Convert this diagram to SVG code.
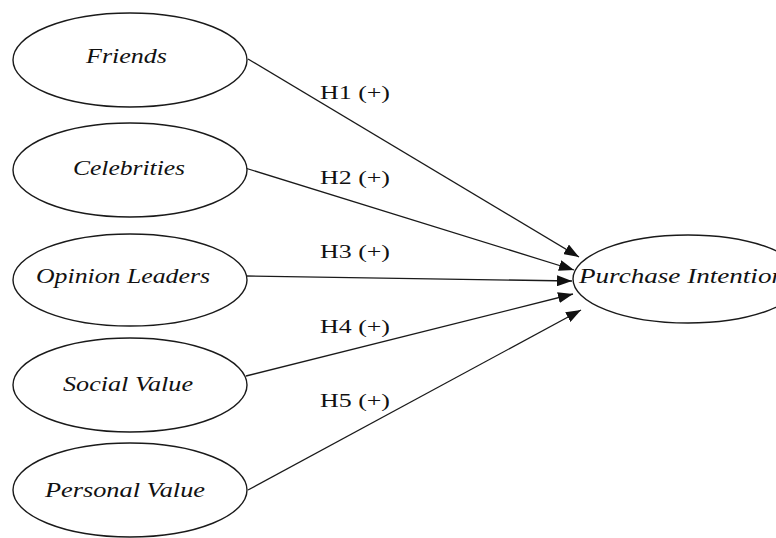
<svg xmlns="http://www.w3.org/2000/svg" width="776" height="538" viewBox="0 0 776 538">
<style>
.node ellipse{fill:#fff;stroke:#1a1a1a;stroke-width:1.4}
.node text{font-family:"Liberation Serif","Times New Roman",serif;font-style:italic;font-size:20px;fill:#111}
.edge{stroke:#1a1a1a;stroke-width:1.3;fill:none;marker-end:url(#arr)}
.lbl{font-family:"Liberation Serif","Times New Roman",serif;font-size:19px;fill:#111}
</style>
<defs>
<marker id="arr" markerUnits="userSpaceOnUse" markerWidth="15" markerHeight="11" refX="15" refY="5.5" orient="auto">
<path d="M0,0 L15,5.5 L0,11 z" fill="#111"/>
</marker>
</defs>
<rect width="776" height="538" fill="#fff"/>
<g id="connectors">
<line class="edge" x1="248" y1="59" x2="579" y2="257"/>
<line class="edge" x1="245" y1="168" x2="574" y2="270"/>
<line class="edge" x1="246" y1="276" x2="572" y2="281"/>
<line class="edge" x1="246" y1="376" x2="573" y2="294"/>
<line class="edge" x1="248" y1="490" x2="581" y2="310"/>
<text class="lbl" x="320" y="99" textLength="70" lengthAdjust="spacingAndGlyphs">H1 (+)</text>
<text class="lbl" x="320" y="184" textLength="70" lengthAdjust="spacingAndGlyphs">H2 (+)</text>
<text class="lbl" x="320" y="258" textLength="70" lengthAdjust="spacingAndGlyphs">H3 (+)</text>
<text class="lbl" x="320" y="333" textLength="70" lengthAdjust="spacingAndGlyphs">H4 (+)</text>
<text class="lbl" x="320" y="407" textLength="70" lengthAdjust="spacingAndGlyphs">H5 (+)</text>
</g>
<g id="friends" class="node">
<ellipse cx="130" cy="60" rx="117" ry="47"/>
<text x="86" y="63" textLength="81" lengthAdjust="spacingAndGlyphs">Friends</text>
</g>
<g id="celebrities" class="node">
<ellipse cx="130" cy="170" rx="117" ry="47"/>
<text x="73" y="175" textLength="112" lengthAdjust="spacingAndGlyphs">Celebrities</text>
</g>
<g id="opinion-leaders" class="node">
<ellipse cx="130" cy="280" rx="117" ry="46"/>
<text x="36" y="283" textLength="174" lengthAdjust="spacingAndGlyphs">Opinion Leaders</text>
</g>
<g id="social-value" class="node">
<ellipse cx="130" cy="385" rx="117" ry="47"/>
<text x="63" y="391" textLength="130" lengthAdjust="spacingAndGlyphs">Social Value</text>
</g>
<g id="personal-value" class="node">
<ellipse cx="130" cy="490" rx="117" ry="47"/>
<text x="45" y="497" textLength="160" lengthAdjust="spacingAndGlyphs">Personal Value</text>
</g>
<g id="purchase-intention" class="node">
<ellipse cx="688" cy="279" rx="115" ry="44"/>
<text x="579" y="283" textLength="206" lengthAdjust="spacingAndGlyphs">Purchase Intention</text>
</g>
</svg>
